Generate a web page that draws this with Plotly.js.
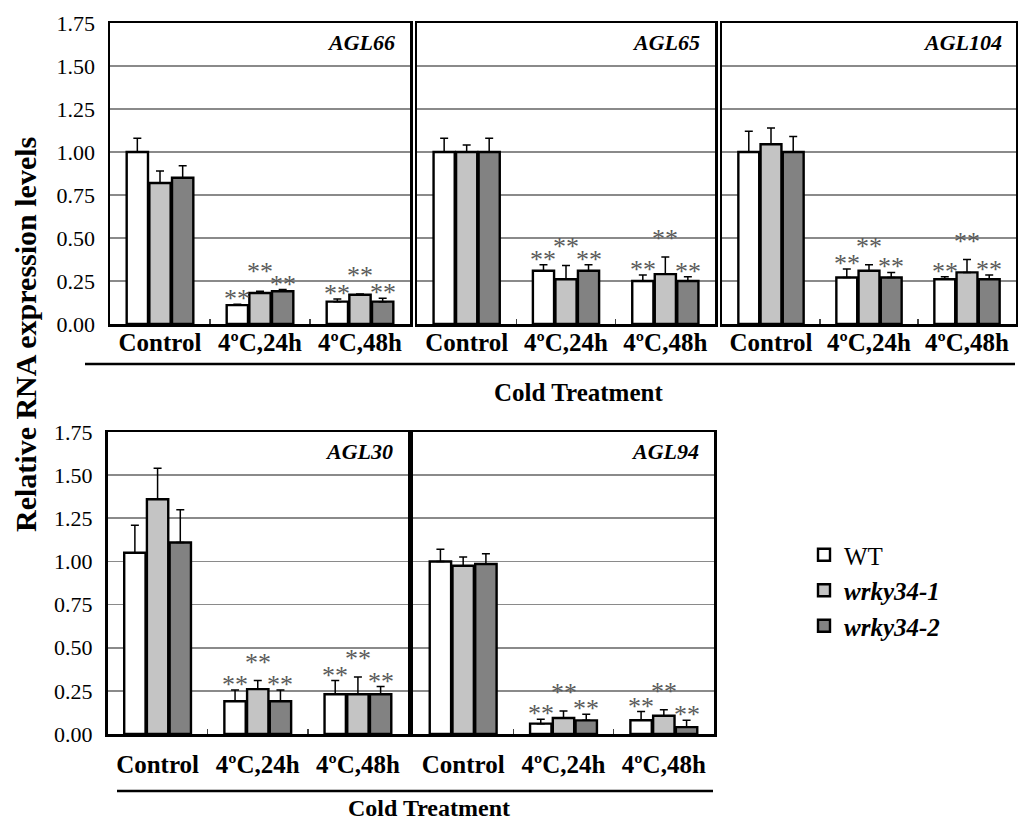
<!DOCTYPE html>
<html>
<head>
<meta charset="utf-8">
<script src="https://cdn.plot.ly/plotly-3.0.1.min.js"></script>
<style>html,body{margin:0;padding:0;background:#fff;}#chart{width:1018px;height:824px;}</style>
</head>
<body>
<div id="chart"></div>
<script>
// ---- data ----
const categories = ['Control', '4ºC,24h', '4ºC,48h'];
const genotypes = ['WT', '<b><i>wrky34-1</i></b>', '<b><i>wrky34-2</i></b>'];
const genes = ['AGL66', 'AGL65', 'AGL104', 'AGL30', 'AGL94'];

// values: rows = WT, wrky34-1, wrky34-2 ; cols = Control, 24h, 48h
const agl66_values  = [[1.00, 0.11, 0.13], [0.82, 0.18, 0.17], [0.85, 0.19, 0.13]];
const agl66_errors  = [[0.08, 0.005, 0.015], [0.07, 0.01, 0.005], [0.07, 0.01, 0.02]];
const agl65_values  = [[1.00, 0.31, 0.25], [1.00, 0.26, 0.29], [1.00, 0.31, 0.25]];
const agl65_errors  = [[0.08, 0.035, 0.035], [0.04, 0.08, 0.10], [0.08, 0.035, 0.025]];
const agl104_values = [[1.00, 0.27, 0.26], [1.045, 0.31, 0.30], [1.00, 0.27, 0.26]];
const agl104_errors = [[0.12, 0.05, 0.015], [0.095, 0.035, 0.075], [0.09, 0.03, 0.025]];
const agl30_values  = [[1.05, 0.19, 0.23], [1.36, 0.26, 0.23], [1.11, 0.19, 0.23]];
const agl30_errors  = [[0.16, 0.065, 0.08], [0.18, 0.05, 0.10], [0.19, 0.065, 0.045]];
const agl94_values  = [[1.00, 0.06, 0.08], [0.975, 0.093, 0.106], [0.985, 0.079, 0.04]];
const agl94_errors  = [[0.07, 0.025, 0.05], [0.05, 0.04, 0.035], [0.06, 0.035, 0.04]];
// significance marks (per bar) : '' for none
const agl66_sig  = [['', '**', '**'], ['', '**', '**'], ['', '**', '**']];
const agl65_sig  = agl66_sig, agl104_sig = agl66_sig, agl30_sig = agl66_sig, agl94_sig = agl66_sig;

const allValues = [agl66_values, agl65_values, agl104_values, agl30_values, agl94_values];
const allErrors = [agl66_errors, agl65_errors, agl104_errors, agl30_errors, agl94_errors];
const allSig = [agl66_sig, agl65_sig, agl104_sig, agl30_sig, agl94_sig];

// ---- style ----
const FONT = 'Liberation Serif';
const fills = ['#ffffff', '#c4c4c4', '#828282'];
const W = 1018, H = 824;
// panel pixel boxes [left, right, top, bottom]
const boxes = [
  [110, 410, 23, 324], [417, 715, 23, 324], [722, 1016, 23, 324],
  [107.5, 408, 432, 734], [413, 714, 432, 734]
];

const traces = [];
const layout = {
  width: W, height: H,
  margin: {l: 0, r: 0, t: 0, b: 0},
  paper_bgcolor: '#fff', plot_bgcolor: '#fff',
  barmode: 'group', bargap: 0.32, bargroupgap: 0.06,
  showlegend: true,
  legend: {x: 804 / W, y: 1 - 532 / H, xanchor: 'left', yanchor: 'top',
           font: {family: FONT, size: 25, color: '#000'}, tracegroupgap: 0,
           bgcolor: 'rgba(0,0,0,0)', itemwidth: 30},
  font: {family: FONT, color: '#000'},
  annotations: [], shapes: []
};

boxes.forEach((b, p) => {
  const sfx = p === 0 ? '' : String(p + 1);
  const xa = 'x' + sfx, ya = 'y' + sfx;
  const bottomRow = p >= 3;
  layout['xaxis' + sfx] = {
    domain: [b[0] / W, b[1] / W], anchor: ya, type: 'category',
    showline: true, mirror: true, linewidth: 2.5, linecolor: '#000',
    ticks: 'inside', tickson: 'boundaries', ticklen: 5, tickwidth: 1.5, tickcolor: '#444',
    tickfont: {family: FONT, size: 25, weight: 'bold', color: '#000'},
    ticklabelstandoff: bottomRow ? 6 : -6,
    showgrid: false, zeroline: false, fixedrange: true
  };
  layout['yaxis' + sfx] = {
    domain: [1 - b[3] / H, 1 - b[2] / H], anchor: xa,
    range: [0, 1.75], dtick: 0.25, tick0: 0, tickformat: '.2f',
    showline: true, mirror: true, linewidth: 2.5, linecolor: '#000',
    showgrid: true, gridcolor: '#8a8a8a', gridwidth: 1.6, zeroline: false,
    ticks: '', showticklabels: (p === 0 || p === 3),
    tickfont: {family: FONT, size: 22, color: '#000'}, ticklabelstandoff: 8,
    fixedrange: true
  };
  const vals = allValues[p], errs = allErrors[p], sig = allSig[p];
  const slot = (1 - layout.bargap) / genotypes.length;
  genotypes.forEach((g, k) => {
    traces.push({
      type: 'bar', name: g, x: categories, y: vals[k], xaxis: xa, yaxis: ya,
      marker: {color: fills[k], line: {color: '#000', width: 2.4}},
      error_y: {type: 'data', symmetric: false, array: errs[k], arrayminus: errs[k].map(() => 0),
                color: '#000', thickness: 1.5, width: 4},
      showlegend: p === 0, legendgroup: 'g' + k, hoverinfo: 'skip'
    });
    // significance marks above error bars (middle mark lifted when neighbours are level, as in the figure)
    categories.forEach((c, i) => {
      if (!sig[k][i]) return;
      const top = vals[k][i] + errs[k][i];
      let lift = 0;
      if (k === 1) {
        const nb = Math.max(vals[0][i] + errs[0][i], vals[2][i] + errs[2][i]);
        if (top - nb > -0.09) lift = Math.max(0, (nb - top) * 172) + 13;
      }
      layout.annotations.push({
        xref: xa, yref: ya, x: i + (k - 1) * slot, y: top,
        text: sig[k][i], showarrow: false, xanchor: 'center', yanchor: 'bottom', yshift: -11 + lift,
        font: {family: FONT, size: 26, color: '#5a5a5a'}
      });
    });
  });
  // gene name
  layout.annotations.push({
    xref: xa + ' domain', yref: ya + ' domain', x: 0.958, y: 0.935,
    text: '<b><i>' + genes[p] + '</i></b>', showarrow: false, xanchor: 'right', yanchor: 'middle',
    font: {family: FONT, size: 22, color: '#000'}
  });
});

// group labels / lines
layout.annotations.push(
  {xref: 'paper', yref: 'paper', x: 578 / W, y: 1 - 393 / H, text: '<b>Cold Treatment</b>', showarrow: false,
   font: {family: FONT, size: 25}, xanchor: 'center', yanchor: 'middle'},
  {xref: 'paper', yref: 'paper', x: 429 / W, y: 1 - 808 / H, text: '<b>Cold Treatment</b>', showarrow: false,
   font: {family: FONT, size: 24}, xanchor: 'center', yanchor: 'middle', borderpad: 0},
  {xref: 'paper', yref: 'paper', x: 25 / W, y: 1 - 335 / H, text: '<b>Relative RNA expression levels</b>', showarrow: false,
   textangle: -90, font: {family: FONT, size: 30}, xanchor: 'center', yanchor: 'middle'}
);
layout.shapes.push(
  {type: 'line', xref: 'paper', yref: 'paper', x0: 85 / W, x1: 1015 / W, y0: 1 - 364 / H, y1: 1 - 364 / H,
   line: {color: '#000', width: 2.5}},
  {type: 'line', xref: 'paper', yref: 'paper', x0: 117 / W, x1: 713 / W, y0: 1 - 791 / H, y1: 1 - 791 / H,
   line: {color: '#000', width: 2.5}}
);

Plotly.newPlot('chart', traces, layout, {displayModeBar: false, staticPlot: true});
</script>
</body>
</html>
